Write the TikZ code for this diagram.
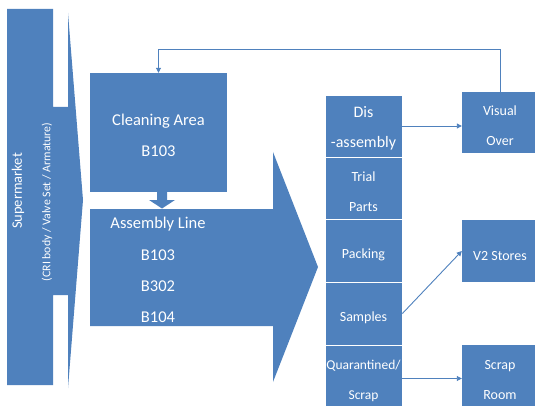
\documentclass[tikz,border=0pt]{standalone}
\usepackage{fontspec}
\setmainfont{Carlito}
\usetikzlibrary{arrows.meta}
\definecolor{bl}{HTML}{4F81BD}
\tikzset{
  shp/.style={fill=bl, draw=none},
  box/.style={rectangle, fill=bl, draw=none, inner sep=0pt},
  cell/.style={rectangle, fill=bl, draw=white, line width=0.8pt, inner sep=0pt, minimum width=77pt},
  txt/.style={text=white, inner sep=0pt, align=center, font=\fontsize{14}{30}\selectfont},
  bigtxt/.style={text=white, inner sep=0pt, align=center, font=\fontsize{16.5}{31}\selectfont},
  conn/.style={draw=bl, line width=0.9pt, -{Triangle[length=5pt,width=5pt]}}
}
\begin{document}
\begin{tikzpicture}[x=1pt,y=-1pt]
\useasboundingbox (0,0) rectangle (535,406);
\clip (0,0) rectangle (535,406);
% Supermarket arrow
\fill[shp] (7,9) -- (53,9) -- (53,107) -- (68,107) -- (68,13) -- (83,200) -- (68,388) -- (68,295) -- (53,295) -- (53,385) -- (7,385) -- cycle;
\node[txt, rotate=90, font=\fontsize{14.5}{16}\selectfont] (sm) at (18,191) {Supermarket};
\node[txt, rotate=90, font=\fontsize{11.8}{14}\selectfont] (smsub) at (47,202) {(CRI body / Valve Set / Armature)};
% Cleaning area
\node[box, minimum width=137pt, minimum height=119pt] (clean) at (158.5,132.5) {};
\node[bigtxt] (cleant) at (158.5,135) {Cleaning Area\\B103};
% small down arrow
\fill[shp] (157,191) -- (167,191) -- (167,200) -- (175,200) -- (162,208.5) -- (149,200) -- (157,200) -- cycle;
% Assembly line arrow
\fill[shp] (90,209) -- (273,209) -- (273,152) -- (318,267) -- (273,382) -- (273,326) -- (90,326) -- cycle;
\node[box, minimum width=137pt, minimum height=117pt] (asm) at (158.5,267.5) {};
\node[bigtxt] (asm1) at (158,224) {Assembly Line};
\node[bigtxt] (asm2) at (158,255) {B103};
\node[bigtxt] (asm3) at (158,286) {B302};
\node[bigtxt] (asm4) at (158,317) {B104};
% column
\node[cell, minimum height=62pt] (dis) at (363.5,126) {};
\node[cell, minimum height=62pt] (trial) at (363.5,188) {};
\node[cell, minimum height=63pt] (pack) at (363.5,250.5) {};
\node[cell, minimum height=63pt] (samp) at (363.5,313.5) {};
\node[cell, minimum height=66pt] (quar) at (363.5,378) {};
\node[txt, font=\fontsize{16}{30}\selectfont] (dist) at (363.5,128) {Dis\\-assembly};
\node[txt] (trialt) at (363.5,192) {Trial\\Parts};
\node[txt] (packt) at (363.5,255) {Packing};
\node[txt] (sampt) at (363.5,318) {Samples};
\node[txt, font=\fontsize{13.5}{30}\selectfont] (quart) at (363.5,381) {Quarantined/\\Scrap};
% right boxes
\node[box, minimum width=76pt, minimum height=61pt] (vis) at (500,122.5) {};
\node[txt] (vist) at (500,126) {Visual\\Over};
\node[box, minimum width=76pt, minimum height=62pt] (v2) at (500,251) {};
\node[txt] (v2t) at (500,256) {V2 Stores};
\node[box, minimum width=76pt, minimum height=66pt] (scrap) at (500,378) {};
\node[txt] (scrapt) at (500,380) {Scrap\\Room};
% connectors
\draw[conn] (dis.east) -- (dis.east -| vis.west);
\draw[conn] (samp.east) -- (v2.west);
\draw[conn] ([yshift=-0.5pt]quar.east) -- ([yshift=-0.5pt]quar.east -| scrap.west);
\draw[conn] (vis.north) -- (500,49) -| (clean.north);
\end{tikzpicture}
\end{document}
